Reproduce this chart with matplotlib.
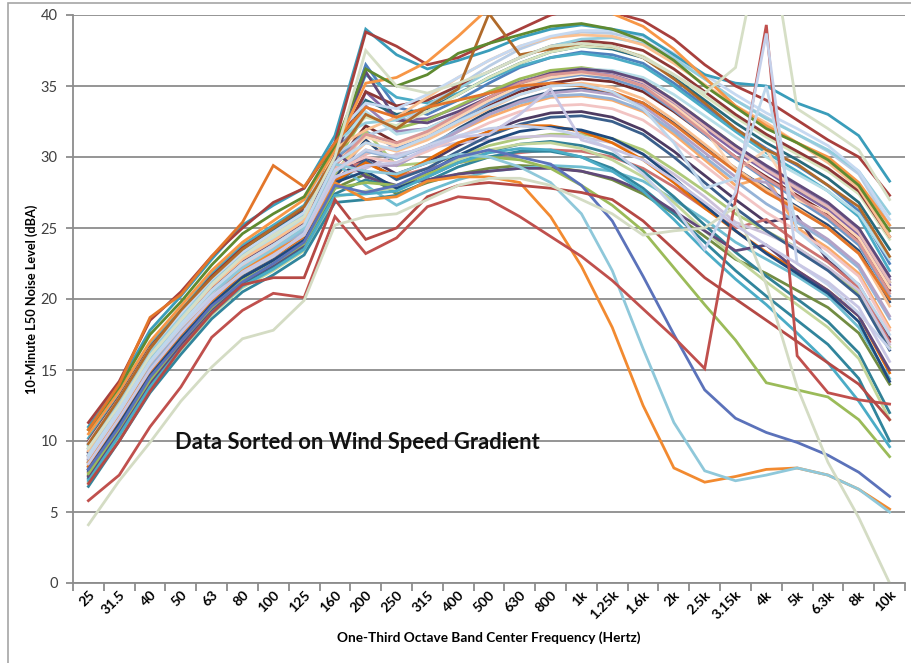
import matplotlib
matplotlib.use("Agg")
import matplotlib.pyplot as plt
import numpy as np
from matplotlib.patches import Rectangle

freq_labels = ["25", "31.5", "40", "50", "63", "80", "100", "125", "160", "200", "250", "315",
               "400", "500", "630", "800", "1k", "1.25k", "1.6k", "2k", "2.5k", "3.15k", "4k",
               "5k", "6.3k", "8k", "10k"]

# body of runs
run_b01 = [9.5,12.8,16.2,18.8,21.2,23.2,24.5,25.8,30.0,36.5,33.5,33.0,34.0,35.2,36.3,37.0,37.4,37.2,36.6,35.2,33.6,32.0,30.6,29.4,28.0,26.2,22.5]
run_b02 = [8.7,11.9,15.4,18.0,20.4,22.3,23.6,25.0,29.2,34.6,32.6,32.7,33.5,34.5,35.3,35.9,36.0,35.7,35.0,33.6,32.0,30.4,29.0,27.6,26.3,24.5,21.0]
run_b03 = [9.2,12.4,15.8,18.4,20.8,22.6,24.0,25.3,29.6,33.0,32.0,32.6,33.6,34.6,35.5,36.1,36.3,36.0,35.4,34.0,32.4,30.8,29.2,27.8,26.5,25.0,21.2]
run_b04 = [10.2,13.2,16.8,19.2,21.8,23.8,25.2,26.6,30.5,35.8,34.2,33.8,34.5,35.5,36.4,37.0,37.3,37.0,36.4,35.0,33.4,31.8,30.3,29.0,27.6,25.8,22.0]
run_b05 = [8.0,11.3,14.8,17.4,19.8,21.7,23.0,24.4,28.7,30.5,30.0,30.8,31.8,32.8,33.6,34.2,34.3,34.0,33.2,31.6,29.8,28.0,28.6,25.0,23.6,21.8,18.0]
run_b06 = [8.5,11.6,15.0,17.6,20.0,21.9,23.1,24.6,28.6,31.2,29.4,30.6,32.0,33.2,34.0,34.6,34.8,34.5,33.8,32.4,30.8,29.2,27.8,26.5,25.2,23.4,19.8]
run_b07 = [9.0,12.1,15.6,18.2,20.6,22.5,23.8,25.1,29.4,32.2,31.0,31.5,32.5,33.6,34.6,35.2,35.5,35.3,34.6,33.2,31.6,30.0,28.6,27.3,26.0,24.2,20.6]
run_b08 = [7.6,10.8,14.2,16.9,19.3,21.2,22.4,23.8,27.8,28.8,27.4,28.2,28.8,29.2,29.4,29.3,29.0,28.4,27.4,26.0,24.4,22.8,21.8,20.6,19.4,17.6,14.0]
run_b09 = [8.2,11.4,14.9,17.5,19.9,21.8,23.0,24.4,28.4,30.0,28.8,29.6,30.8,31.8,32.6,33.1,33.2,32.8,31.9,30.4,28.7,27.0,25.4,25.8,22.7,21.0,17.2]
run_b10 = [9.8,12.9,16.5,19.0,21.4,23.4,24.8,26.2,30.2,34.0,33.0,33.4,34.4,35.6,36.6,37.4,37.8,37.6,37.0,35.6,34.0,32.4,31.0,29.8,28.5,26.8,23.5]
run_b11 = [8.9,12.0,15.5,18.1,20.5,22.4,23.7,25.0,29.8,31.8,30.6,31.4,32.6,33.8,34.8,35.5,35.8,35.5,34.8,33.3,31.6,29.9,28.4,27.0,25.6,23.8,20.2]
run_b12 = [7.8,11.0,14.4,17.1,19.6,21.5,22.8,24.2,29.2,29.6,28.6,29.2,29.6,30.0,30.3,30.5,30.4,30.0,29.2,27.9,26.4,25.0,25.6,24.0,22.6,20.8,17.0]
run_b13 = [8.4,11.5,15.0,17.7,20.1,22.0,23.2,24.6,28.8,31.8,29.4,29.6,30.0,30.8,31.3,31.6,31.6,31.3,30.5,29.1,27.6,26.0,24.8,23.6,22.2,20.4,16.6]
run_b14 = [9.3,12.5,15.9,18.5,20.9,22.8,24.1,25.5,29.9,33.6,31.8,32.0,33.0,34.0,35.0,35.7,36.0,35.8,35.1,33.8,32.2,30.6,29.2,27.9,26.6,24.8,21.4]
run_b15 = [7.3,10.5,13.9,16.6,19.1,21.0,22.2,23.6,29.6,28.0,26.6,27.6,28.4,29.0,29.2,29.4,29.3,29.0,28.3,27.0,25.6,24.0,22.8,21.6,20.2,18.0,14.4]
run_b16 = [8.6,11.8,15.2,17.9,20.3,22.2,23.4,24.8,29.0,31.0,30.4,31.2,32.3,33.4,34.4,35.0,35.2,34.9,34.1,32.6,30.9,29.2,27.7,26.4,25.0,23.2,19.5]
run_b17 = [9.1,12.2,15.7,18.3,20.7,22.6,23.9,25.3,30.2,31.5,32.2,33.6,35.0,36.4,37.6,38.4,38.8,38.7,38.2,37.0,35.5,34.0,32.8,31.6,30.4,28.8,25.2]
run_b18 = [8.3,11.5,15.1,17.8,20.2,22.1,23.3,24.7,29.3,30.2,30.8,31.8,33.0,34.2,35.2,35.9,36.2,36.0,35.3,33.9,32.2,30.6,29.1,27.8,26.5,24.7,21.2]
run_b19 = [9.6,12.7,16.1,18.7,21.1,23.0,24.3,25.7,30.8,32.8,32.2,33.2,34.4,35.6,36.6,37.4,37.8,37.7,37.1,35.8,34.3,32.8,31.4,30.2,29.0,27.4,24.2]
run_b20 = [8.0,11.2,14.7,17.3,19.8,21.7,22.9,24.3,28.6,29.2,30.2,30.6,31.0,31.2,31.4,31.5,31.4,31.0,30.2,28.8,27.2,25.4,24.6,23.6,22.2,20.6,16.8]
run_b21 = [9.4,12.6,16.0,18.6,21.0,22.9,24.2,25.6,30.6,33.2,31.6,32.0,33.0,34.0,35.0,35.8,36.2,36.1,35.6,34.4,32.9,31.4,30.0,28.8,27.6,26.0,22.8]
run_b22 = [8.8,12.0,15.4,18.0,20.4,22.3,23.6,25.0,29.6,31.4,30.8,31.6,32.8,34.0,35.0,35.6,35.9,35.7,35.0,33.6,31.9,29.0,30.5,27.0,26.1,24.3,20.8]
run_b23 = [7.9,11.1,14.6,17.2,19.7,21.6,22.8,24.2,28.0,29.8,28.4,29.2,30.4,31.5,32.3,32.8,32.9,32.5,31.6,30.0,28.2,26.4,24.8,23.4,22.0,20.2,16.4]
run_b24 = [10.0,13.1,16.6,19.1,21.6,23.6,25.0,26.4,30.4,34.6,33.6,34.0,35.0,36.0,37.0,37.8,38.2,38.0,37.5,36.2,34.6,33.0,31.6,30.4,29.2,27.6,24.4]
run_b25 = [9.2,12.3,15.8,18.4,20.8,22.7,24.0,25.4,29.8,36.0,32.6,32.4,33.2,34.2,35.2,35.9,36.2,36.0,35.4,34.0,32.4,30.8,29.4,28.1,26.8,25.0,21.6]
run_b26 = [7.4,10.6,14.0,16.7,19.2,21.1,22.3,23.7,27.4,28.4,27.8,28.6,29.6,30.4,30.9,31.1,30.8,30.2,29.0,27.2,25.2,23.3,21.6,20.0,18.4,16.2,12.0]
run_b27 = [8.6,11.7,15.2,17.8,20.2,22.1,23.4,24.8,29.0,30.4,29.9,30.8,31.9,33.0,33.8,34.3,34.4,34.1,33.3,31.8,30.0,28.3,26.7,25.4,24.0,22.2,18.6]
run_b28 = [9.0,12.2,15.6,18.2,20.6,22.5,23.8,25.2,29.4,31.6,31.0,31.8,33.0,34.2,35.2,35.8,36.0,35.7,35.0,33.4,31.7,30.0,28.5,27.2,25.8,24.0,20.4]
run_b29 = [7.1,10.3,13.7,16.4,18.9,20.8,22.0,23.4,27.2,27.6,27.8,28.8,29.8,30.5,30.9,31.0,30.6,29.8,28.6,26.8,24.8,22.9,21.2,19.6,18.0,15.8,11.5]
run_b30 = [8.1,11.3,14.8,17.4,19.9,21.8,23.0,24.4,28.5,29.4,29.4,30.5,31.8,33.0,33.9,34.5,34.7,34.4,33.6,32.0,30.3,28.6,28.2,25.6,24.2,22.4,18.8]
run_b31 = [6.8,10.0,13.4,16.1,18.6,20.5,21.7,23.1,26.8,27.0,27.3,28.3,29.3,30.0,30.4,30.4,30.0,29.2,27.8,26.0,24.0,22.0,20.2,18.5,16.8,14.4,10.0]
run_b32 = [8.2,11.4,14.9,17.5,19.9,21.8,23.0,24.4,28.3,29.6,28.6,29.8,31.0,31.8,32.2,32.2,31.8,31.0,29.8,28.2,26.4,24.8,23.3,22.0,20.6,18.8,14.8]
run_b33 = [7.5,10.7,14.1,16.8,19.3,21.2,22.4,23.8,30.4,28.6,28.0,28.4,28.8,29.0,29.2,29.2,29.0,28.5,27.6,26.2,24.8,23.4,23.8,22.0,20.6,18.8,15.0]
run_b34 = [9.7,12.8,16.3,18.9,21.3,23.2,24.6,26.0,31.2,32.4,32.6,33.6,34.8,36.0,37.0,37.8,38.3,38.4,38.0,36.9,35.5,34.0,32.7,31.6,30.5,29.0,26.0]
run_b35 = [8.9,12.1,15.5,18.1,20.5,22.4,23.7,25.1,29.1,30.0,29.6,30.4,31.4,32.4,33.2,33.6,33.7,33.4,32.6,31.1,29.4,27.7,26.1,24.8,23.4,21.6,17.8]
run_b36 = [9.3,12.4,15.9,18.5,20.9,22.8,24.1,25.5,30.6,31.9,32.8,34.2,35.6,36.8,37.8,38.4,38.6,38.5,37.9,36.6,35.1,33.6,32.4,31.0,29.6,27.8,24.4]
run_b37 = [9.9,13.0,16.5,19.0,21.4,23.3,24.7,26.1,31.5,33.8,33.4,34.4,35.6,36.8,37.8,38.5,38.9,38.9,38.5,37.3,35.8,34.4,33.1,32.0,30.8,29.0,25.6]
run_b38 = [8.0,11.2,14.6,17.2,19.6,21.5,22.7,24.1,28.2,29.0,27.8,28.9,30.1,31.1,31.8,32.1,31.9,31.3,30.2,28.5,26.6,24.8,23.2,21.8,20.4,18.4,14.2]
run_b39 = [7.7,10.9,14.3,17.0,19.4,21.3,22.5,23.9,27.8,28.2,28.0,28.8,29.6,30.0,29.8,29.2,28.0,26.6,24.8,22.2,19.6,17.1,14.1,13.6,13.1,11.5,8.9]
run_b40 = [7.2,10.4,13.8,16.5,19.0,20.9,22.1,23.5,27.3,27.4,27.6,28.6,29.6,30.3,30.6,30.5,30.0,29.0,27.6,25.6,23.4,21.4,19.6,17.6,15.5,12.8,9.6]

# distinctive runs
run_s01 = [11.0,14.0,17.8,20.2,22.8,25.2,26.6,27.8,31.5,39.0,37.2,36.2,36.8,37.5,38.4,39.0,39.3,39.0,38.6,37.2,35.8,35.2,35.0,33.8,33.0,31.5,28.3]
run_s02 = [11.3,14.2,18.5,20.5,23.0,25.0,26.8,27.8,31.0,38.8,37.8,36.5,37.0,38.0,39.0,40.0,40.5,40.2,39.6,38.3,36.5,35.0,34.0,32.6,31.2,30.0,27.3]
run_s03 = [10.5,13.5,17.0,19.5,22.0,24.0,25.5,27.0,30.5,35.2,35.6,36.7,38.5,40.5,40.6,40.5,40.4,40.1,39.2,37.6,35.6,33.6,32.2,31.0,30.0,28.2,25.2]
run_s04 = [9.8,13.0,16.5,19.2,21.5,23.5,25.0,26.5,30.0,33.0,32.0,33.5,34.8,40.1,37.2,37.6,38.0,37.8,37.0,35.5,33.8,32.0,30.5,29.5,28.0,26.5,23.0]
run_s05 = [10.8,13.8,17.5,19.8,22.4,24.6,26.0,27.2,30.8,36.2,35.0,35.8,37.3,38.0,38.6,39.2,39.4,39.0,38.2,36.8,35.0,33.5,32.0,31.0,29.8,28.0,24.8]
run_s06 = [10.8,14.0,18.7,20.3,23.0,25.4,29.4,27.9,31.0,33.5,32.8,33.5,34.0,34.5,35.0,35.2,35.0,34.6,33.8,32.3,30.6,29.0,27.5,26.3,25.0,23.2,20.0]
run_s07 = [8.5,11.8,15.5,18.0,20.0,22.0,23.3,24.5,28.2,27.0,27.2,28.3,28.6,28.6,28.2,25.8,22.3,18.0,12.5,8.1,7.1,7.5,8.0,8.1,7.6,6.6,5.2]
run_s08 = [9.0,12.3,15.8,18.3,20.5,22.2,23.5,25.0,29.5,29.0,28.8,29.6,30.2,30.0,29.3,28.2,26.0,22.0,16.5,11.3,7.9,7.2,7.6,8.1,7.6,6.6,5.0]
run_s09 = [8.0,11.0,14.5,17.0,19.5,21.2,22.5,24.0,28.0,27.5,28.0,29.0,30.0,30.5,30.0,29.5,28.0,25.5,21.6,17.5,13.6,11.6,10.6,9.9,9.0,7.8,6.1]
run_s10 = [5.8,7.6,11.0,13.8,17.3,19.2,20.4,20.1,25.8,23.2,24.3,26.5,27.2,27.0,25.8,24.4,23.0,21.3,19.3,17.3,15.1,27.0,39.3,16.0,13.4,12.9,12.6]
run_s11 = [7.0,10.0,13.5,16.5,19.0,21.0,21.5,21.5,27.0,24.2,25.0,27.2,28.0,28.2,28.0,27.8,27.5,27.0,25.5,23.5,21.5,20.0,18.5,17.0,15.5,14.0,11.5]
run_s12 = [4.1,7.2,9.9,12.8,15.2,17.2,17.8,19.9,25.2,25.8,26.0,27.0,28.0,28.5,28.5,28.0,27.0,26.0,24.5,24.8,25.0,26.5,21.0,13.8,8.5,4.6,0.0]
run_s13 = [9.5,12.5,16.0,18.5,21.0,23.0,24.5,25.8,30.0,37.5,35.0,34.5,35.2,36.0,37.0,37.8,38.0,37.8,37.0,35.8,34.5,36.3,47.0,33.4,32.0,30.5,27.0]
run_s14 = [8.8,12.0,15.5,18.0,20.2,21.8,23.0,24.6,29.0,30.5,30.0,30.8,31.5,32.0,32.2,32.0,31.5,30.5,28.8,26.5,23.5,27.5,38.7,22.5,21.0,19.0,16.5]
run_s15 = [9.0,12.2,15.6,18.2,20.6,22.5,23.8,25.2,29.6,31.0,30.5,31.4,32.5,33.5,34.4,35.0,35.1,34.6,33.4,31.0,27.8,28.5,35.0,24.8,23.0,21.0,17.5]
run_s16 = [8.4,11.6,15.0,17.6,20.0,21.9,23.1,24.5,28.6,29.4,29.6,30.6,31.4,31.6,33.0,34.8,31.2,30.6,29.8,28.4,26.8,25.2,23.8,22.5,21.2,19.4,15.6]

body_runs = [run_b01, run_b02, run_b03, run_b04, run_b05, run_b06, run_b07, run_b08, run_b09, run_b10,
             run_b11, run_b12, run_b13, run_b14, run_b15, run_b16, run_b17, run_b18, run_b19, run_b20,
             run_b21, run_b22, run_b23, run_b24, run_b25, run_b26, run_b27, run_b28, run_b29, run_b30,
             run_b31, run_b32, run_b33, run_b34, run_b35, run_b36, run_b37, run_b38, run_b39, run_b40]
body_colors = ["#4F81BD", "#8064A2", "#9BBB59", "#4BACC6", "#F9AB6B", "#2C4D75", "#772C2A", "#728C43",
               "#4D3B62", "#276A7C", "#729ACA", "#CD7371", "#AFC97A", "#9983B5", "#6FBDD1", "#FAC090",
               "#B9CDE5", "#E6B9B8", "#D7E4BD", "#CCC1DA", "#B7DEE8", "#FCD5B5", "#3A5F8B", "#8E3836",
               "#604A7B", "#318096", "#95B3D7", "#D99694", "#C3D69B", "#B3A2C7", "#31859C", "#E46C0A",
               "#60497A", "#93CDDD", "#F2C4C3", "#FAC090", "#C6D9F1", "#1F497D", "#9BBB59", "#4BACC6"]

special_runs = [run_s01, run_s02, run_s03, run_s04, run_s05, run_s06, run_s07, run_s08,
                run_s09, run_s10, run_s11, run_s12, run_s13, run_s14, run_s15, run_s16]
special_colors = ["#3A9DBA", "#A8403D", "#F79646", "#B06A2A", "#5F8A30", "#E3762A", "#F28A30", "#8FC8DA",
                  "#5B72BA", "#C0504D", "#B54945", "#D4DCC4", "#D6DFC6", "#C5D0EA", "#BFD7EC", "#C8C6E4"]

fig = plt.figure(figsize=(9.12, 6.63), dpi=100)
ax = fig.add_axes([73/912, (663-583)/663, (905-73)/912, (583-15)/663])

x = np.arange(len(freq_labels))
for vals, col in zip(body_runs, body_colors):
    ax.plot(x, vals, color=col, lw=2.0, solid_joinstyle="miter")
for vals, col in zip(special_runs, special_colors):
    ax.plot(x, vals, color=col, lw=2.0, solid_joinstyle="miter")

ax.set_xlim(-0.5, len(freq_labels) - 0.5)
ax.set_ylim(0, 40)
ax.set_yticks(np.arange(0, 41, 5))
ax.yaxis.grid(True, color="#8C8C8C", lw=1.3)
ax.set_axisbelow(True)
for s in ["top", "right"]:
    ax.spines[s].set_visible(False)
for s in ["left", "bottom"]:
    ax.spines[s].set_color("#8C8C8C")
    ax.spines[s].set_linewidth(1.3)

ax.set_xticks(np.arange(len(freq_labels) + 1) - 0.5)
ax.set_xticklabels([])
ax.tick_params(axis="x", which="major", direction="out", length=6, color="#8C8C8C", width=1.3)
ax.set_xticks(x, minor=True)
ax.set_xticklabels(freq_labels, minor=True, rotation=45, ha="right", va="top",
                   rotation_mode="anchor", fontsize=10, fontweight="bold", family="Lato")
ax.tick_params(axis="x", which="minor", length=0, pad=4)
ax.tick_params(axis="y", direction="out", length=5, color="#8C8C8C", width=1.3,
               labelsize=10.5, labelcolor="#404040", pad=6)
for lab in ax.get_yticklabels():
    lab.set_family("Lato")

ax.set_ylabel("10-Minute L50 Noise Level (dBA)", fontsize=9.2, fontweight="bold",
              family="Lato", labelpad=2)
ax.set_xlabel("One-Third Octave Band Center Frequency (Hertz)", fontsize=9.8,
              fontweight="bold", family="Lato", labelpad=7)

ax.text(0.123, 0.247, "Data Sorted on Wind Speed Gradient", transform=ax.transAxes,
        fontsize=15.8, fontweight="bold", family="Lato", color="#111111", va="center")

fig.add_artist(Rectangle((8/912, -0.01), 1.02, (663-3)/663 + 0.01, transform=fig.transFigure,
                         fill=False, edgecolor="#A6A6A6", lw=1.2))

fig.savefig("out.png", dpi=100)
